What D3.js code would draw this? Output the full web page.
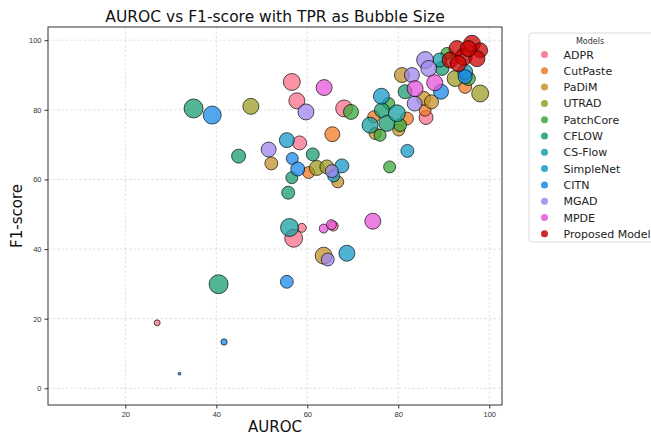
<!DOCTYPE html>
<html>
<head>
<meta charset="utf-8">
<script src="https://cdn.jsdelivr.net/npm/d3@7"></script>
<style>
    body { margin: 0; background: #fff; }
    svg { font-family: "DejaVu Sans", sans-serif; }
    .tick text { fill: #333; font-size: 7.5px; }
    .tick line { stroke: #333; }
    .grid line { stroke: #d8d8d8; stroke-dasharray: 2.5,2; stroke-width: 0.8; }
</style>
</head>
<body>
<svg id="chart" width="651" height="435"></svg>
<script>
// model names and colours, same order as the legend
const models = ["ADPR", "CutPaste", "PaDiM", "UTRAD", "PatchCore", "CFLOW",
                "CS-Flow", "SimpleNet", "CITN", "MGAD", "MPDE", "Proposed Model"];
const colors = ["#f76f87", "#f07a26", "#c4922a", "#9c9c24", "#3aa83a", "#189c70",
                "#16a0a0", "#1699c8", "#1a8ae8", "#9e86ee", "#e655d8", "#cc0000"];

// [AUROC, F1-score, TPR]
const adpr = [[27.0,18.8,9],[58.3,70.5,49],[58.8,46.1,20],[57.0,43.1,80],[56.6,88.0,72],
              [57.7,82.6,64],[68.1,80.4,72],[86.1,77.8,49],[65.7,46.6,25]];
const cutpaste = [[60.3,62.0,36],[65.5,73.0,56],[74.6,78.0,36],[81.9,77.5,42],[85.9,79.9,36],[94.7,86.6,42]];
const padim = [[52.1,64.6,42],[66.7,59.3,36],[63.6,38.1,72],[80.1,74.2,36],[74.9,73.2,36],
               [80.8,90.0,56],[85.6,83.3,49],[87.3,82.3,49]];
const utrad = [[47.6,81.0,64],[62.1,63.3,56],[64.3,63.6,49],[92.5,89.0,64],[98.0,84.7,72]];
const patchcore = [[69.6,79.4,56],[78.1,63.6,36],[77.9,81.8,36],[80.4,75.6,42],[76.0,72.7,36],
                   [90.7,96.2,36],[95.4,89.0,49]];
const cflow = [[40.5,29.9,90],[35.0,80.4,90],[44.9,66.7,49],[61.2,67.2,42],[56.6,60.5,36],
               [55.8,56.2,42],[76.4,79.9,56],[77.5,76.1,64],[81.5,85.2,49],[89.6,91.9,49]];
const csflow = [[56.1,46.2,81],[79.7,79.0,72],[89.1,94.3,49],[73.8,75.6,64]];
const simplenet = [[55.5,71.3,56],[67.6,63.9,49],[65.8,61.0,36],[68.7,38.8,64],[82.0,68.2,42],
                   [76.3,83.9,64],[94.7,90.9,56]];
const citn = [[31.9,4.2,2],[41.7,13.3,10],[55.5,30.6,42],[39.1,78.5,81],[56.7,66.0,36],
              [57.9,63.0,49],[89.4,85.2,56],[94.7,89.5,49]];
const mgad = [[51.5,68.6,56],[59.7,79.4,64],[65.4,62.4,42],[64.5,37.0,42],[83.0,90.0,56],
              [83.6,81.8,56],[85.9,94.3,72],[86.7,91.9,64]];
const mpde = [[63.7,86.4,64],[74.4,48.0,64],[63.6,45.9,20],[65.3,47.0,25],[83.7,86.1,64],[88.0,87.8,64]];
const proposed = [[92.9,97.6,64],[96.2,99.0,72],[98.0,97.1,56],[91.4,94.3,64],[94.4,95.2,72],
                  [97.3,94.7,64],[95.4,97.6,64],[93.2,93.3,64]];

const series = [adpr, cutpaste, padim, utrad, patchcore, cflow, csflow, simplenet, citn, mgad, mpde, proposed];
const xTicks = [20, 40, 60, 80, 100];
const yTicks = [0, 20, 40, 60, 80, 100];

const svg = d3.select("#chart");
const pLeft = 48, pRight = 502, pTop = 27, pBottom = 405;

const x = d3.scaleLinear().domain([3, 102.8]).range([pLeft, pRight]);
const y = d3.scaleLinear().domain([-4.8, 103.8]).range([pBottom, pTop]);
const r = d3.scaleSqrt().domain([0, 100]).range([0, 10]);

// grid
svg.append("g").attr("class", "grid")
    .selectAll("line").data(xTicks).enter().append("line")
    .attr("x1", d => x(d)).attr("x2", d => x(d)).attr("y1", pTop).attr("y2", pBottom);
svg.append("g").attr("class", "grid")
    .selectAll("line").data(yTicks).enter().append("line")
    .attr("y1", d => y(d)).attr("y2", d => y(d)).attr("x1", pLeft).attr("x2", pRight);

// axes
const gx = svg.append("g").attr("transform", "translate(0," + pBottom + ")")
    .call(d3.axisBottom(x).tickValues(xTicks).tickSize(3.5).tickPadding(3));
const gy = svg.append("g").attr("transform", "translate(" + pLeft + ",0)")
    .call(d3.axisLeft(y).tickValues(yTicks).tickSize(3.5).tickPadding(3));
gx.select(".domain").remove();
gy.select(".domain").remove();

// bubbles
series.forEach(function(pts, i) {
    svg.append("g").selectAll("circle")
        .data(pts).enter().append("circle")
        .attr("cx", d => x(d[0]))
        .attr("cy", d => y(d[1]))
        .attr("r", d => r(d[2]))
        .attr("fill", colors[i])
        .attr("fill-opacity", 0.75)
        .attr("stroke", "#000")
        .attr("stroke-opacity", 0.65)
        .attr("stroke-width", 1);
});

// frame
svg.append("rect").attr("x", pLeft).attr("y", pTop)
    .attr("width", pRight - pLeft).attr("height", pBottom - pTop)
    .attr("fill", "none").attr("stroke", "#333").attr("stroke-width", 1);

// labels
svg.append("text").attr("x", (pLeft + pRight) / 2).attr("y", 22)
    .attr("text-anchor", "middle").attr("font-size", 15.5).attr("fill", "#111")
    .text("AUROC vs F1-score with TPR as Bubble Size");
svg.append("text").attr("x", (pLeft + pRight) / 2).attr("y", 432)
    .attr("text-anchor", "middle").attr("font-size", 15).attr("fill", "#111")
    .text("AUROC");
svg.append("text").attr("transform", "translate(22," + (pTop + pBottom) / 2 + ") rotate(-90)")
    .attr("text-anchor", "middle").attr("font-size", 15).attr("fill", "#111")
    .text("F1-score");

// legend
const lg = svg.append("g").attr("transform", "translate(529,33)");
lg.append("rect").attr("width", 130).attr("height", 209).attr("rx", 3)
    .attr("fill", "#fff").attr("stroke", "#ddd");
lg.append("text").attr("x", 61).attr("y", 11).attr("text-anchor", "middle")
    .attr("font-size", 8).attr("fill", "#333").text("Models");
models.forEach(function(m, i) {
    const yy = 21.5 + i * 16.3;
    lg.append("circle").attr("cx", 15.5).attr("cy", yy).attr("r", 3.5)
        .attr("fill", colors[i]).attr("fill-opacity", 0.85);
    lg.append("text").attr("x", 34.5).attr("y", yy + 4).attr("font-size", 11)
        .attr("fill", "#222").text(m);
});
</script>
</body>
</html>
